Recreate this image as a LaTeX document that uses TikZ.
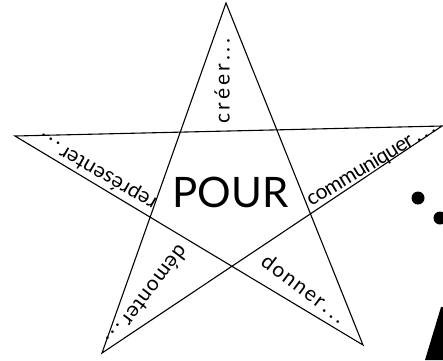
\documentclass[tikz,border=0pt]{standalone}
\usepackage{fontspec}
\setsansfont{Lato}
\newcommand{\etcdots}{\,.\,.\,.}

\begin{document}
\begin{tikzpicture}[x=1pt, y=-1pt, every node/.style={font=\sffamily}]
  \tikzset{
    branche/.style={line width=1.1pt, line join=miter},
    verbe/.style={inner sep=0pt, font=\sffamily\fontsize{21}{21}\selectfont\addfontfeatures{LetterSpace=#1}},
    verbe/.default=0,
    centre/.style={inner sep=0pt, font=\sffamily\fontsize{42}{42}\selectfont}
  }
  \useasboundingbox (0,0) rectangle (443,360);

  % sommets de l'etoile
  \foreach \nom/\x/\y in {haut/226/3, gauche/15/136, droite/442/126, basg/102/353, basd/363/345}
    \coordinate (\nom) at (\x,\y);
  \draw[branche] (haut) -- (basg) -- (droite) -- (gauche) -- (basd) -- cycle;

  % mots dans les branches
  \node[centre] (pour) at (230.5,192) {POUR};
  \node[verbe=14, rotate=90]  (creer) at (222,81)   {créer\etcdots};
  \node[verbe=1,  rotate=150] (repr)  at (97,171)   {représenter\etcdots};
  \node[verbe=-3, rotate=31]  (comm)  at (371,164)  {communiquer\etcdots};
  \node[verbe=8,  rotate=-37] (donn)  at (304,288)  {donner\etcdots};
  \node[verbe=4,  rotate=233] (demo)  at (148,296)  {démonter\etcdots};

  % crayon coupe au bord
  \fill (418,198) circle (6.5pt);
  \fill (440,218) circle (6.5pt);
  \fill (425,360) -- (441,307) -- (443,307) -- (443,360) -- cycle;
\end{tikzpicture}
\end{document}
